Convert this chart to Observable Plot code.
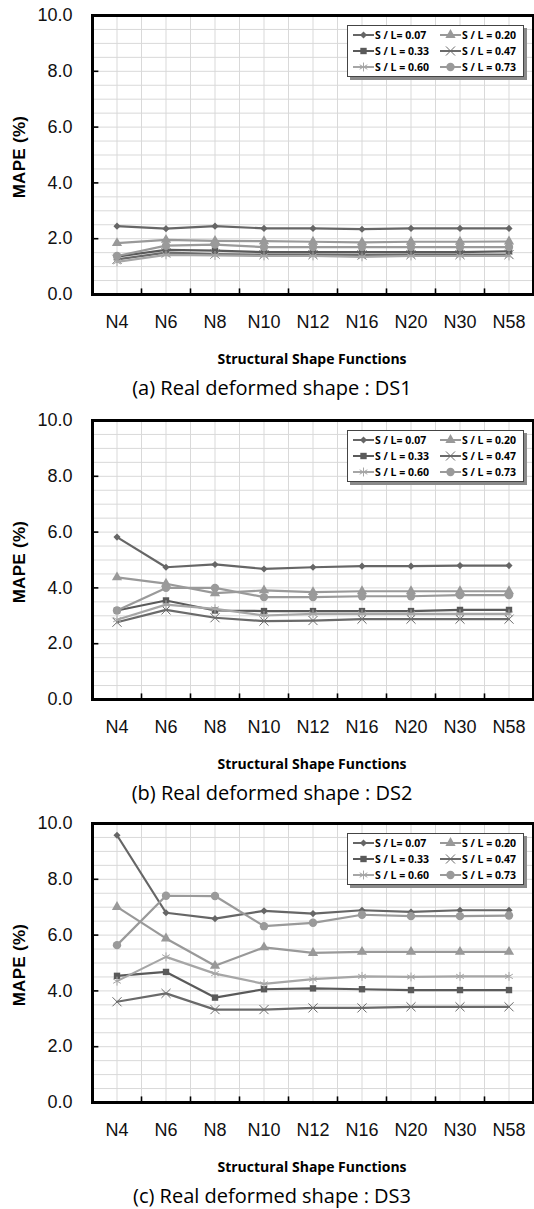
<!DOCTYPE html>
<html>
<head>
<meta charset="utf-8">
<script src="https://cdn.jsdelivr.net/npm/d3@7"></script>
<script src="https://cdn.jsdelivr.net/npm/@observablehq/plot@0.6"></script>
<style>
  html, body { margin: 0; padding: 0; background: #fff; }
  #root { position: relative; width: 534px; height: 1209px; overflow: hidden; }
  .abs { position: absolute; }
  .ytitle { font-family: "Liberation Sans", Arial, sans-serif; font-weight: bold; font-size: 17px; color: #000; white-space: nowrap; transform-origin: center center; letter-spacing: 0.3px; }
  .xtitle { font-family: "Open Sans", sans-serif; font-weight: bold; font-size: 14px; color: #000; white-space: nowrap; text-align: center; }
  .caption { font-family: "Open Sans", sans-serif; font-size: 20px; color: #000; white-space: nowrap; text-align: center; }
  .legend { background: #fff; border: 1px solid #444; box-shadow: 3px 3px 0 #8a8a8a; box-sizing: border-box; }
  .legend .item { position: absolute; display: flex; align-items: center; font-family: "Open Sans", sans-serif; font-weight: bold; font-size: 10.5px; color: #000; white-space: nowrap; }
</style>
</head>
<body>
<div id="root"></div>
<script>
// ---------- data ----------
const categories = ["N4", "N6", "N8", "N10", "N12", "N16", "N20", "N30", "N58"];
const seriesNames = ["S / L= 0.07", "S / L = 0.20", "S / L = 0.33", "S / L = 0.47", "S / L = 0.60", "S / L = 0.73"];
const seriesColors = ["#666666", "#999999", "#5a5a5a", "#6a6a6a", "#a6a6a6", "#9a9a9a"];
const seriesSymbols = ["diamond2", "triangle", "square", "times", "asterisk", "circle"];
const yTicks = [0, 2, 4, 6, 8, 10];
const yTitle = "MAPE (%)";
const xTitle = "Structural Shape Functions";
const captions = ["(a) Real deformed shape : DS1", "(b) Real deformed shape : DS2", "(c) Real deformed shape : DS3"];

// DS1
const ds1_007 = [2.45, 2.36, 2.45, 2.37, 2.37, 2.34, 2.37, 2.37, 2.37];
const ds1_020 = [1.84, 1.96, 1.92, 1.91, 1.89, 1.87, 1.89, 1.89, 1.90];
const ds1_033 = [1.36, 1.60, 1.57, 1.52, 1.52, 1.52, 1.52, 1.52, 1.55];
const ds1_047 = [1.26, 1.50, 1.45, 1.43, 1.43, 1.42, 1.43, 1.43, 1.43];
const ds1_060 = [1.17, 1.42, 1.40, 1.38, 1.38, 1.35, 1.38, 1.38, 1.38];
const ds1_073 = [1.38, 1.75, 1.79, 1.70, 1.70, 1.70, 1.70, 1.70, 1.70];
// DS2
const ds2_007 = [5.82, 4.74, 4.84, 4.68, 4.74, 4.78, 4.78, 4.80, 4.80];
const ds2_020 = [4.38, 4.15, 3.81, 3.91, 3.85, 3.88, 3.88, 3.88, 3.88];
const ds2_033 = [3.19, 3.55, 3.19, 3.17, 3.17, 3.17, 3.17, 3.21, 3.21];
const ds2_047 = [2.77, 3.21, 2.93, 2.81, 2.83, 2.88, 2.88, 2.88, 2.88];
const ds2_060 = [2.86, 3.40, 3.25, 3.01, 3.07, 3.07, 3.07, 3.07, 3.07];
const ds2_073 = [3.19, 4.00, 4.00, 3.67, 3.67, 3.70, 3.70, 3.74, 3.74];
// DS3
const ds3_007 = [9.58, 6.80, 6.59, 6.87, 6.77, 6.89, 6.83, 6.89, 6.89];
const ds3_020 = [7.01, 5.88, 4.90, 5.56, 5.36, 5.40, 5.40, 5.40, 5.40];
const ds3_033 = [4.54, 4.68, 3.76, 4.06, 4.09, 4.06, 4.03, 4.03, 4.03];
const ds3_047 = [3.61, 3.91, 3.33, 3.33, 3.39, 3.39, 3.43, 3.43, 3.43];
const ds3_060 = [4.35, 5.22, 4.62, 4.25, 4.42, 4.52, 4.50, 4.52, 4.52];
const ds3_073 = [5.64, 7.41, 7.40, 6.32, 6.44, 6.73, 6.68, 6.68, 6.70];

const panelSeries = [
  [ds1_007, ds1_020, ds1_033, ds1_047, ds1_060, ds1_073],
  [ds2_007, ds2_020, ds2_033, ds2_047, ds2_060, ds2_073],
  [ds3_007, ds3_020, ds3_033, ds3_047, ds3_060, ds3_073]
];

// ---------- layout ----------
const W = 534;
const frameTops = [15, 420, 823];
const mTop = 15, mLeft = 92, mRight = 1, plotH = 279;
const svgH = 345;
const markerR = {diamond2: 3.2, triangle: 3.8, square: 3.6, times: 4.2, asterisk: 4.2, circle: 4.2};
const hollow = new Set(["times", "asterisk"]);

const root = document.getElementById("root");
const idx = d3.range(categories.length);
const bounds = d3.range(1, categories.length).map(k => k - 0.5);
const halfSteps = d3.range(-0.5, categories.length - 0.49, 0.5);
const yGrid = d3.range(0, 10.01, 0.5);

panelSeries.forEach((series, p) => {
  const top = frameTops[p] - mTop;
  const seriesMarks = series.flatMap((vals, si) => {
    const rows = vals.map((v, i) => ({i, v}));
    const sym = seriesSymbols[si];
    const col = seriesColors[si];
    return [
      Plot.line(rows, {x: "i", y: "v", stroke: col, strokeWidth: 2.2}),
      hollow.has(sym)
        ? Plot.dot(rows, {x: "i", y: "v", symbol: sym, stroke: col, r: markerR[sym], strokeWidth: 1})
        : Plot.dot(rows, {x: "i", y: "v", symbol: sym, fill: col, stroke: "none", r: markerR[sym]})
    ];
  });

  const chart = Plot.plot({
    width: W,
    height: svgH,
    marginTop: mTop,
    marginLeft: mLeft,
    marginRight: mRight,
    marginBottom: svgH - mTop - plotH,
    x: {type: "linear", domain: [-0.5, categories.length - 0.5], axis: null},
    y: {type: "linear", domain: [0, 10], axis: null},
    style: {fontFamily: "'Liberation Sans', Arial, sans-serif", background: "#fff", overflow: "visible"},
    marks: [
      Plot.gridX(halfSteps, {stroke: "#d9d9d9", strokeOpacity: 1, strokeWidth: 1}),
      Plot.gridY(yGrid, {stroke: "#d9d9d9", strokeOpacity: 1, strokeWidth: 1}),
      Plot.ruleX(bounds, {x: d => d, y1: 0, y2: 0.2, stroke: "#000", strokeWidth: 1.6}),
      Plot.ruleY(yTicks.slice(1, -1), {y: d => d, x1: -0.5, x2: -0.37, stroke: "#000", strokeWidth: 1.6}),
      ...seriesMarks,
      Plot.axisY(yTicks, {anchor: "left", tickSize: 0, tickPadding: 20, tickFormat: d => d.toFixed(1), fontSize: 18, fill: "#111", label: null}),
      Plot.axisX(idx, {anchor: "bottom", tickSize: 0, tickPadding: 21, tickFormat: i => categories[i], fontSize: 18, fill: "#111", label: null}),
      Plot.frame({stroke: "#000", strokeWidth: 3})
    ]
  });
  const wrap = document.createElement("div");
  wrap.className = "abs";
  wrap.style.left = "0px";
  wrap.style.top = top + "px";
  wrap.appendChild(chart);
  root.appendChild(wrap);

  const fTop = frameTops[p];
  const fBottom = fTop + plotH;

  // y title
  const yt = document.createElement("div");
  yt.className = "abs ytitle";
  yt.textContent = yTitle;
  yt.style.width = "120px";
  yt.style.textAlign = "center";
  yt.style.lineHeight = "20px";
  yt.style.left = (20 - 60) + "px";
  yt.style.top = (fTop + 142 - 10) + "px";
  yt.style.transform = "rotate(-90deg)";
  root.appendChild(yt);

  // x title
  const xt = document.createElement("div");
  xt.className = "abs xtitle";
  xt.textContent = xTitle;
  xt.style.width = "300px";
  xt.style.left = (312 - 150) + "px";
  xt.style.lineHeight = "16px";
  xt.style.top = (fBottom + 65 - 8) + "px";
  root.appendChild(xt);

  // caption
  const cp = document.createElement("div");
  cp.className = "abs caption";
  cp.textContent = captions[p];
  cp.style.width = "400px";
  cp.style.left = (272 - 200) + "px";
  cp.style.lineHeight = "24px";
  cp.style.top = (fBottom + 94 - 12) + "px";
  root.appendChild(cp);

  // legend
  const lg = document.createElement("div");
  lg.className = "abs legend";
  lg.style.left = "347px";
  lg.style.top = (fTop + 10) + "px";
  lg.style.width = "177px";
  lg.style.height = "52px";
  seriesNames.forEach((name, si) => {
    const col = si % 2, row = Math.floor(si / 2);
    const item = document.createElement("div");
    item.className = "item";
    item.style.left = (col === 0 ? 5 : 92) + "px";
    item.style.top = (2 + row * 16) + "px";
    item.style.height = "14px";
    const sw = d3.create("svg").attr("width", 21).attr("height", 12).style("margin-right", "1px");
    sw.append("line").attr("x1", 0).attr("x2", 21).attr("y1", 6).attr("y2", 6)
      .attr("stroke", seriesColors[si]).attr("stroke-width", 2);
    const sym = seriesSymbols[si];
    const symType = {diamond2: d3.symbolDiamond2, triangle: d3.symbolTriangle, square: d3.symbolSquare,
                     times: d3.symbolTimes, asterisk: d3.symbolAsterisk, circle: d3.symbolCircle}[sym];
    const r = markerR[sym];
    const path = sw.append("path").attr("transform", "translate(10.5,6)")
      .attr("d", d3.symbol(symType, Math.PI * r * r)());
    if (hollow.has(sym)) path.attr("fill", "none").attr("stroke", seriesColors[si]).attr("stroke-width", 1);
    else path.attr("fill", seriesColors[si]);
    item.appendChild(sw.node());
    const t = document.createElement("span");
    t.textContent = name;
    item.appendChild(t);
    lg.appendChild(item);
  });
  root.appendChild(lg);
});
</script>
</body>
</html>
